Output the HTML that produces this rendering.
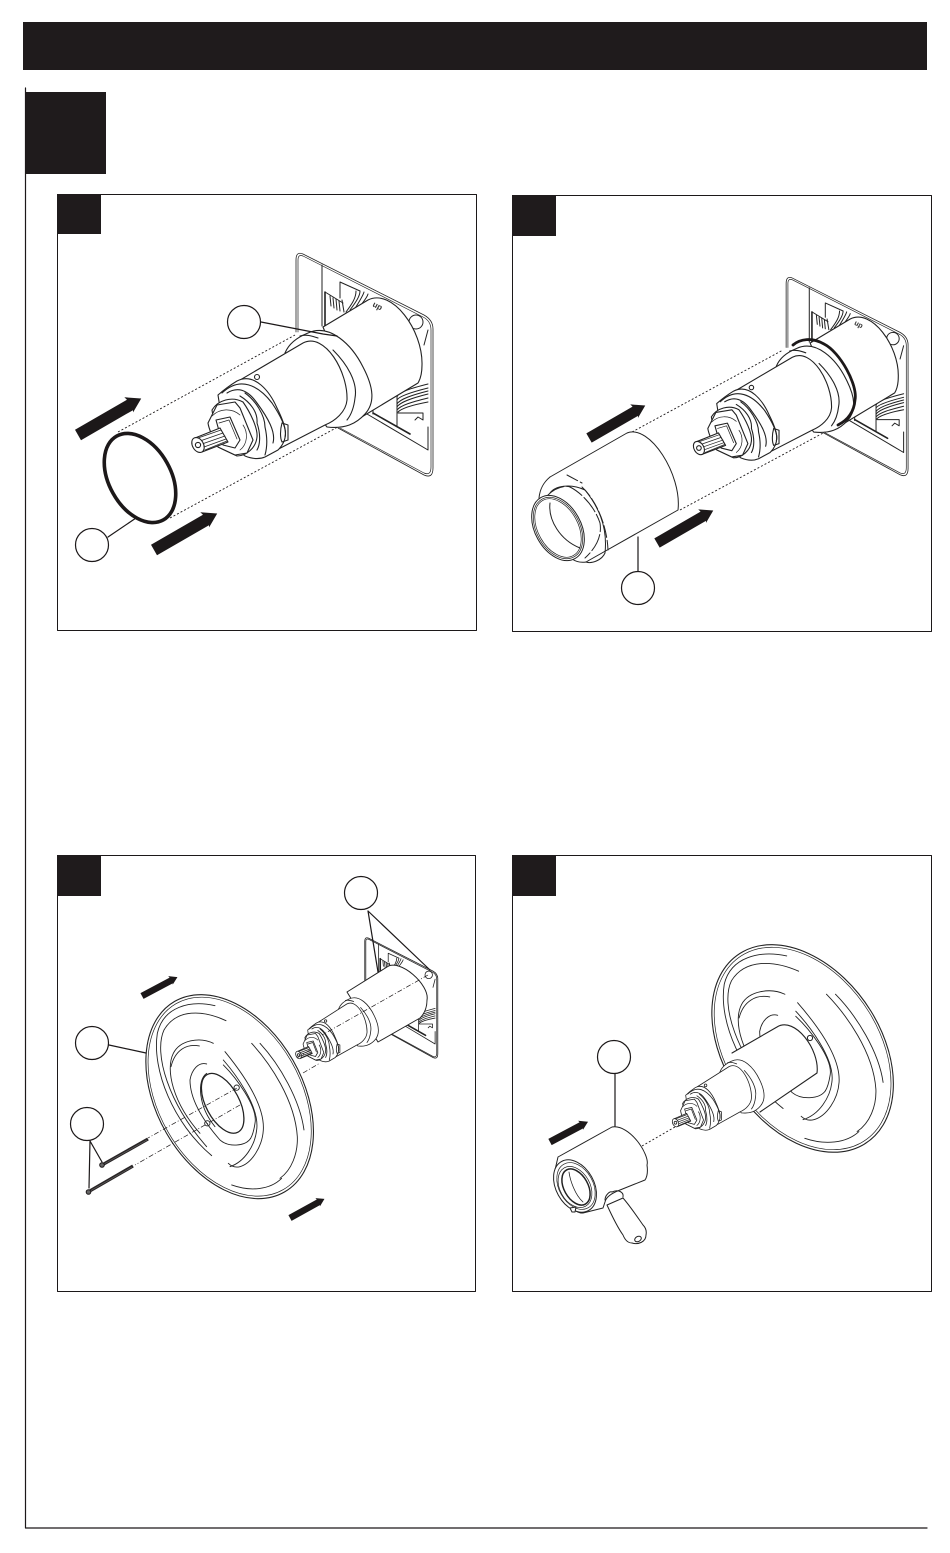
<!DOCTYPE html>
<html><head><meta charset="utf-8"><style>
html,body{margin:0;padding:0;background:#fff}
svg{display:block}
.l *{vector-effect:non-scaling-stroke}
</style></head><body>
<svg width="950" height="1553" viewBox="0 0 950 1553" xmlns="http://www.w3.org/2000/svg" stroke-linejoin="round" stroke-linecap="round">
<defs>
<polygon id="arr" points="0,-6 60,-6 59,-9.5 73,0 59,8 60,6 0,6" fill="#1c1819"/>
<g id="plate" class="l" fill="none" stroke="#222">
  <path d="M296,332 L296,260 Q296,251 303,254 L424,315 Q433,320 433,329 L433,468 Q433,479 424,475 L338,428" stroke-width=".8"/>
  <path d="M298,332 L298,260 Q298,254 303,256 L423,317 Q431,321 431,330 L431,467 Q431,476 424,473 L340,428" stroke-width=".7"/>
  <path d="M322,265 L322,326"/>
  <path d="M325,292 L325,327" stroke-width="1.6"/>
  <path d="M325,292 L343,303 M340,282 L340,298 M340,282 L360,291"/>
  <path d="M330,296 L331,306 M333,298 L334,308 M336,299 L337,310 M339,301 L340,311 M342,300 L344,312 M350,310 C356,302 360,296 360,291 M354,310 C359,302 363,296 364,292 M358,309 C363,302 367,298 368,294 M346,312 C352,304 356,298 356,291"/>
  <circle cx="416" cy="322" r="7"/><path d="M428,330 L424,345"/>
  <path d="M373,413 L410,434" stroke-width="1.6"/>
  <path d="M367,414 L428,450 M428,427 L428,450 M373,406 L373,414"/>
  <path d="M397,397 C398,392 412,388 428,384 M397,400 C399,396 412,392 428,388 M397,404 C400,399 412,395 428,391 M397,407 C400,402 412,398 428,394 M397,410 C401,405 412,402 428,398 M398,412 C402,408 412,405 428,402 M397,397 L397,427 M398,413 L423,413 L423,420 L418,417 L415,420"/>
</g>
<g id="vbody" class="l" fill="#fff" stroke="#222">
  <path d="M323,327 L368,300 C392,288 423,330 422,365 C422,372 421,378 418,383 L360,418 Z"/>
  <text transform="translate(372,306) rotate(28)" font-family="Liberation Sans, sans-serif" font-size="8" font-weight="bold" fill="#333" stroke="none">up</text>
</g>
<g id="vhead" class="l" fill="#fff" stroke="#222">
  <path d="M285,353 C289,343 298,337 308,333 C330,323 352,345 363,367 C374,388 375,403 365,414 C356,424 345,429 327,427 L290,380 Z"/>
  <path fill="none" d="M300,336 C306,334 312,336 318,338 M333,350 C347,364 358,382 355,398 C354,407 351,415 347,420"/>
  <path d="M235,383 L303,343 C325,332 348,372 347,400 C346,412 335,421 325,425 L265,456 Z"/>
  <circle cx="257" cy="377" r="2.5"/>
  <path d="M218,395 C226,388 232,384 237,381 C255,372 270,392 277,408 C286,426 290,438 278,450 L265,457 C258,460 250,458 245,456 L225,440 Z"/>
  <path fill="none" d="M222,393 C240,376 258,385 272,403 C282,418 287,430 285,437 M227,393 C240,385 250,393 257,403 C268,418 276,432 273,443 M245,393 C255,400 265,415 265,427 C268,440 267,448 265,455 M240,396 C250,402 258,412 257,423 C261,435 260,445 257,450"/>
  <path fill="none" d="M282,423 L288,425 L288,440 L282,442 C280,438 280,430 282,423"/>
  <path d="M212,410 C218,400 232,396 243,402 C250,412 258,428 257,437 C256,448 246,456 237,456 L218,447 Z"/>
  <path d="M217,405 L235,402 L240,408 L253,440 L247,453 L235,455 L218,447 C213,438 209,430 208,423 Z"/>
  <path fill="none" d="M212,416 C220,408 232,408 240,415 M243,425 C248,432 248,444 240,450" stroke-width=".7"/>
  <path d="M216,420 L230,417 L240,440 L235,448 L223,445 Z"/>
  <path fill="none" d="M219,423 L229,420 L237,439" stroke-width=".7"/>
  <path d="M195,438 L220,428 L228,442 L202,452 Z"/>
  <path fill="none" d="M198,438 L221,430 M200,441 L223,433 M202,444 L225,436 M204,447 L226,439 M205,450 L227,441" stroke-width=".7"/>
  <ellipse cx="198" cy="445" rx="8" ry="5.5" transform="rotate(60 198 445)"/>
  <circle cx="198" cy="445" r="2.6"/>
</g>
<g id="flange" class="l" fill="none" stroke="#222">
  <ellipse cx="269" cy="320" rx="330" ry="219" transform="rotate(60 269 320)" fill="#fff" stroke-width="1.1"/>
  <ellipse cx="269" cy="320" rx="322" ry="213" transform="rotate(60 269 320)" stroke-width=".7"/>
  <path d="M225,47 C150,30 70,50 52,130 C35,240 100,400 215,497"/>
  <path d="M258,92 C190,60 110,55 72,120 C40,190 85,340 200,470"/>
  <path d="M335,160 C390,220 465,330 472,440 C474,490 455,540 420,565"/>
  <path d="M360,160 C420,225 480,330 492,420"/>
  <path d="M275,585 C330,605 390,600 425,565"/>
  <path d="M220,160 C180,140 120,150 100,190 C75,240 100,340 180,430"/>
  <path d="M178,168 C140,160 105,180 93,230"/>
  <path d="M255,185 C300,240 375,340 370,420 C367,470 335,520 300,530 C285,534 275,530 265,520"/>
  <path d="M250,210 C285,250 360,350 350,420 C345,465 315,515 270,530"/>
  <path d="M200,222 C175,215 155,240 150,270 C150,310 170,370 240,450 C265,472 315,470 332,445"/>
  <path d="M250,225 C285,260 355,350 345,400 C342,420 338,435 332,445"/>
</g>
<g id="hole" class="l" fill="none" stroke="#222">
  <path d="M200,250 C170,270 175,350 225,410"/>
  <ellipse cx="248" cy="340" rx="98" ry="50" transform="rotate(62 248 340)" stroke-width="1.3"/>
  <circle cx="290" cy="293" r="8"/>
  <circle cx="202" cy="400" r="8"/>
</g>
</defs>
<rect width="950" height="1553" fill="#fff"/>
<rect x="23" y="22" width="904" height="48" fill="#1f1b1c"/>
<path d="M25.5,88 L25.5,1528 L927,1528" fill="none" stroke="#1c1819" stroke-width="1.2"/>
<rect x="26" y="92" width="80" height="82" fill="#1f1b1c"/>

<!-- Panel A -->
<rect x="57.5" y="194.5" width="419" height="436" fill="#fff" stroke="#1c1819" stroke-width="1"/>
<rect x="57" y="194" width="44" height="40" fill="#1f1b1c"/>
<use href="#plate" stroke-width="1"/>
<path d="M118,432 L295,335 M170,518 L347,422" fill="none" stroke="#1c1819" stroke-width="0.9" stroke-dasharray="2 2" stroke-linecap="butt"/>
<use href="#vbody" stroke-width="1.1"/>
<use href="#vhead" stroke-width="1.1"/>
<ellipse cx="140" cy="478" rx="48" ry="31" transform="rotate(61 140 478)" fill="none" stroke="#1c1819" stroke-width="3.6"/>
<path d="M261,322 L323,334 L337,336 M108,537 L136,518" stroke="#1c1819" stroke-width="1.2" fill="none"/>
<circle cx="244" cy="322" r="16.5" fill="#fff" stroke="#1c1819" stroke-width="1.2"/>
<circle cx="92" cy="545" r="16.5" fill="#fff" stroke="#1c1819" stroke-width="1.2"/>
<use href="#arr" transform="translate(78,435) rotate(-30)"/>
<use href="#arr" transform="translate(154,550) rotate(-30)"/>

<!-- Panel B -->
<rect x="512.5" y="195.5" width="419" height="436" fill="#fff" stroke="#1c1819" stroke-width="1"/>
<rect x="512" y="195" width="44" height="41" fill="#1f1b1c"/>
<use href="#plate" transform="translate(522.7,52) scale(.89)" stroke-width="1"/>
<use href="#vbody" transform="translate(522.7,52) scale(.89)" stroke-width="1.1"/>
<use href="#vhead" transform="translate(522.7,52) scale(.89)" stroke-width="1.1"/>
<path d="M793,345 C800,339 812,337 824,344 C840,352 858,385 855,400 C854,412 848,420 838,425" fill="none" stroke="#1c1819" stroke-width="2.8"/>
<path d="M632,432 L783,350 M680,510 L825,432" fill="none" stroke="#1c1819" stroke-width="0.9" stroke-dasharray="2 2" stroke-linecap="butt"/>
<g class="l" fill="none" stroke="#222" stroke-width="1">
  <path d="M550,477 L627,433 C650,424 682,475 678,510 L586,563 L570,560 L535,510 Z" fill="#fff" stroke="none"/>
  <path d="M550,477 L627,433 C650,424 682,475 678,510 L586,562"/>
  <path d="M550,477 C544,482 540,488 539,498"/>
  <path d="M550,493 C555,486 570,483 585,490 C597,505 608,525 605,553 C602,560 592,564 586,562 C580,563 575,561 572,559"/>
  <path d="M567,475 L582,483 M582,487 C596,500 607,525 608,550" stroke-dasharray="12 3"/>
  <path d="M548,495 C555,488 565,485 570,487 C580,492 594,505 600,523 C602,535 597,547 585,558" stroke-dasharray="18 3"/>
  <ellipse cx="558" cy="528" rx="35" ry="23" transform="rotate(61 558 528)" fill="#fff"/>
  <ellipse cx="558" cy="528" rx="33" ry="21.500" transform="rotate(61 558 528)" stroke-width=".7"/>
  <ellipse cx="558" cy="528" rx="31.500" ry="20" transform="rotate(61 558 528)" stroke-width=".7"/>
  <path d="M550,503 C548,520 560,540 580,548"/>
</g>
<path d="M638,537 L638,572" stroke="#1c1819" stroke-width="1.2"/>
<circle cx="638" cy="588" r="16.5" fill="#fff" stroke="#1c1819" stroke-width="1.2"/>
<use href="#arr" transform="translate(589,438) rotate(-30) scale(.89)"/>
<use href="#arr" transform="translate(657,543) rotate(-30) scale(.89)"/>

<!-- Panel C -->
<rect x="57.5" y="855.5" width="418" height="436" fill="#fff" stroke="#1c1819" stroke-width="1"/>
<rect x="57" y="855" width="44" height="41" fill="#1f1b1c"/>
<use href="#plate" transform="translate(207,801) scale(.533,.54)" stroke-width=".8"/>
<g class="l" fill="#fff" stroke="#222" stroke-width="1">
  <path d="M347,992 L387,967 C400,958 430,985 427,1000 C427,1008 424,1014 420,1018 L378,1042 Z"/>
</g>
<use href="#vhead" transform="translate(207.4,832.5) scale(.46,.5)" stroke-width=".8"/>
<use href="#flange" transform="translate(140,990) scale(.3333)" stroke-width=".9"/>
<use href="#hole" transform="translate(140,990) scale(.3333)" stroke-width=".9"/>
<path d="M428,975 L322,1035 M297,1058 L310,1050 M303,1073 L320,1063 M237,1088 L148,1138 M240,1105 L135,1165" fill="none" stroke="#1c1819" stroke-width="0.7" stroke-dasharray="5 2 1 2" stroke-linecap="butt"/>
<path d="M102,1165 L148,1139 M88,1192 L133,1166" stroke="#2a2627" stroke-width="3.2" stroke-linecap="butt"/>
<path d="M104,1164 L147,1140 M90,1191 L132,1167" stroke="#777" stroke-width=".5" stroke-linecap="butt"/>
<circle cx="102" cy="1165" r="2.3" fill="#666" stroke="#1c1819"/>
<circle cx="88.500" cy="1192" r="2.3" fill="#666" stroke="#1c1819"/>
<path d="M368,911 L378,972 M368,911 L430,970 M109,1045 L146,1053 M90,1141 L102,1162 M90,1141 L89,1188" fill="none" stroke="#1c1819" stroke-width="1.2"/>
<circle cx="361" cy="893" r="16.5" fill="#fff" stroke="#1c1819" stroke-width="1.2"/>
<circle cx="92" cy="1043" r="16.5" fill="#fff" stroke="#1c1819" stroke-width="1.2"/>
<circle cx="87" cy="1124" r="16.5" fill="#fff" stroke="#1c1819" stroke-width="1.2"/>
<use href="#arr" transform="translate(142,996) rotate(-28) scale(.55)"/>
<use href="#arr" transform="translate(290,1218) rotate(-29) scale(.54)"/>

<!-- Panel D -->
<rect x="512.5" y="855.500" width="419" height="436" fill="#fff" stroke="#1c1819" stroke-width="1"/>
<rect x="512" y="855" width="44" height="41" fill="#1f1b1c"/>
<use href="#flange" transform="translate(705.5,940) scale(.361,.339)" stroke-width=".9"/>
<path d="M732,1053 L777,1027 C795,1016 820,1050 817,1073 L760,1112 L740,1090 Z" fill="#fff" stroke="none"/>
<path d="M732,1053 L777,1027 C795,1016 820,1050 817,1073 L760,1112" fill="none" stroke="#222" stroke-width="1.1"/>
<use href="#vhead" transform="translate(574.500,878) scale(.51,.55)" stroke-width=".8"/>
<circle cx="810" cy="1038" r="2.6" fill="#fff" stroke="#222"/>
<path d="M642,1146 L675,1127" fill="none" stroke="#1c1819" stroke-width="0.9" stroke-dasharray="2 2" stroke-linecap="butt"/>
<g class="l" fill="#fff" stroke="#222" stroke-width="1">
  <path d="M607,1205 C612,1216 618,1228 623,1235 C625,1240 628,1243 632,1243 C638,1245 646,1242 646,1235 C647,1230 645,1227 643,1225 C636,1215 630,1206 623,1198 Z"/>
  <ellipse cx="638" cy="1239" rx="3.5" ry="2.5" transform="rotate(-30 638 1239)"/>
  <path d="M558,1157 L612,1127 C630,1124 650,1155 647,1165 C648,1172 647,1177 645,1180 L620,1190 C612,1193 606,1197 605,1202 L603,1208 L583,1213 C575,1214 560,1200 555,1170 Z"/>
  <path fill="none" d="M605,1200 C605,1195 610,1191 612,1192 C618,1189 624,1192 623,1197"/>
  <ellipse cx="575" cy="1186" rx="28" ry="19" transform="rotate(61 575 1186)"/>
  <ellipse cx="576" cy="1186" rx="25" ry="17" transform="rotate(61 576 1186)" fill="none" stroke-width=".7"/>
  <ellipse cx="575" cy="1187" rx="22" ry="15" transform="rotate(61 575 1187)" fill="none" stroke-width=".7"/>
  <ellipse cx="576" cy="1187" rx="19.500" ry="12" transform="rotate(61 576 1187)" stroke-width="1.5"/>
  <path fill="none" d="M569,1172 C570,1180 575,1195 583,1202" stroke-width=".8"/>
  <path d="M570,1208 L576,1207 L575,1212 L572,1212 Z"/>
</g>
<path d="M615,1074 L615,1126" stroke="#1c1819" stroke-width="1.2"/>
<circle cx="614" cy="1057" r="16.5" fill="#fff" stroke="#1c1819" stroke-width="1.2"/>
<use href="#arr" transform="translate(550,1142) rotate(-28) scale(.59)"/>
</svg>
</body></html>
